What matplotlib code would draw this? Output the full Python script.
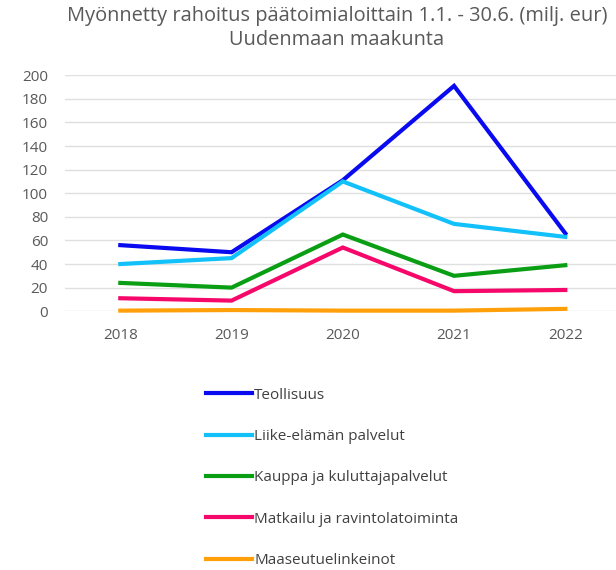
import matplotlib
matplotlib.use('Agg')
import matplotlib.pyplot as plt

plt.rcParams['font.family'] = ['Open Sans', 'DejaVu Sans']

years = ['2018', '2019', '2020', '2021', '2022']
teollisuus = [56, 50, 111, 191, 66]
liike = [40, 45, 110, 74, 63]
kauppa = [24, 20, 65, 30, 39]
matkailu = [11, 9, 54, 17, 18]
maaseutu = [0.5, 1, 0.5, 0.5, 2]

series = [
    ('Teollisuus', teollisuus, '#0a0af0'),
    ('Liike-elämän palvelut', liike, '#12c0fa'),
    ('Kauppa ja kuluttajapalvelut', kauppa, '#0a9e14'),
    ('Matkailu ja ravintolatoiminta', matkailu, '#f5086a'),
    ('Maaseutuelinkeinot', maaseutu, '#ffa00a'),
]

fig = plt.figure(figsize=(6.16, 5.7), dpi=100)
ax = fig.add_axes([0.105, 0.454, 0.903, 0.414])

x = range(len(years))
handles = []
for name, vals, col in series:
    h, = ax.plot(x, vals, color=col, lw=3, label=name, clip_on=False,
                 solid_joinstyle='miter')
    handles.append(h)

ax.set_xlim(-0.5, 4.5)
ax.set_ylim(0, 200)
ax.set_yticks(range(0, 201, 20))
ax.set_xticks(list(x))
ax.set_xticklabels(years)
ax.grid(axis='y', color='#e0e0e0', lw=1)
ax.set_axisbelow(True)
for s in ax.spines.values():
    s.set_visible(False)
ax.tick_params(length=0, colors='#595959', labelsize=11)
ax.tick_params(axis='x', pad=12)
ax.tick_params(axis='y', pad=12)

fig.text(0.547, 0.99, 'Myönnetty rahoitus päätoimialoittain 1.1. - 30.6. (milj. eur)\nUudenmaan maakunta',
         ha='center', va='top', fontsize=14.4, color='#595959', linespacing=1.3)

fig.legend(handles=handles, loc='upper left', bbox_to_anchor=(0.322, 0.333),
           frameon=False, fontsize=11, labelcolor='#404040', handlelength=3.0,
           handletextpad=0.15, labelspacing=1.72, borderpad=0)

fig.savefig('out.png', dpi=100)
